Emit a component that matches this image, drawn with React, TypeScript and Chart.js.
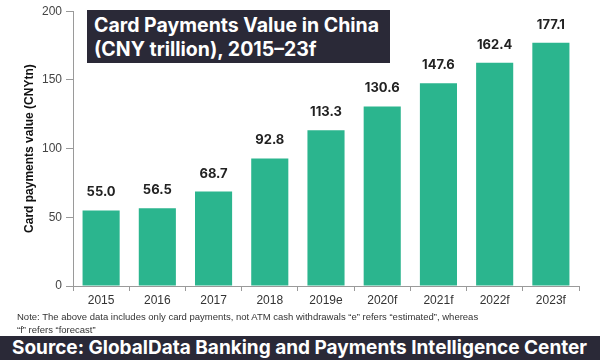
import React, { useEffect, useRef } from "react";
import { Chart, registerables } from "chart.js";

Chart.register(...registerables);

const categories = ["2015", "2016", "2017", "2018", "2019e", "2020f", "2021f", "2022f", "2023f"];
const values = [55.0, 56.5, 68.7, 92.8, 113.3, 130.6, 147.6, 162.4, 177.1];
const yTicks = [0, 50, 100, 150, 200];
const titleLines = ["Card Payments Value in China", "(CNY trillion), 2015\u201323f"];
const yAxisTitle = "Card payments value (CNYtn)";
const noteText = "Note: The above data includes only card payments, not ATM cash withdrawals \u201ce\u201d refers \u201cestimated\u201d, whereas \u201cf\u201d refers \u201cforecast\u201d";
const sourceText = "Source: GlobalData Banking and Payments Intelligence Center";

const BAR = "#2bb58e";
const DARK = "#2a2937";
const AX = "'Liberation Sans', Arial, sans-serif";

const labelPlugin = {
  id: "barLabels",
  afterDatasetsDraw(chart: any) {
    const ctx = chart.ctx;
    const meta = chart.getDatasetMeta(0);
    ctx.save();
    ctx.font = "bold 13px Inter, 'Noto Sans', sans-serif";
    ctx.fillStyle = "#222";
    ctx.textAlign = "center";
    ctx.textBaseline = "middle";
    meta.data.forEach((el: any, i: number) => {
      ctx.fillText(values[i].toFixed(1), el.x, el.y - 18);
    });
    ctx.restore();
  },
};

export default function App() {
  const ref = useRef<HTMLCanvasElement>(null);
  useEffect(() => {
    document.body.style.margin = "0";
    const chart = new Chart(ref.current!, {
      type: "bar",
      data: {
        labels: categories,
        datasets: [
          {
            data: values,
            backgroundColor: BAR,
            barPercentage: 0.66,
            categoryPercentage: 1,
          },
        ],
      },
      options: {
        animation: false,
        responsive: false,
        maintainAspectRatio: false,
        layout: { padding: { top: 9, right: 21, bottom: 54, left: 22 } },
        plugins: { legend: { display: false }, tooltip: { enabled: false } },
        scales: {
          x: {
            grid: { display: true, offset: true, drawOnChartArea: false, drawTicks: true, tickLength: 5, color: "#9a9a9a" },
            border: { color: "#9a9a9a" },
            ticks: {
              color: "#333",
              font: { family: AX, size: 12 },
              padding: 2,
              maxRotation: 0,
            },
            afterFit: (s: any) => {
              s.height = 20;
            },
          },
          y: {
            min: 0,
            max: 200,
            afterBuildTicks: (s: any) => {
              s.ticks = yTicks.map((v) => ({ value: v }));
            },
            grid: { display: true, drawOnChartArea: false, drawTicks: true, tickLength: 7, color: "#9a9a9a" },
            border: { color: "#9a9a9a" },
            ticks: {
              color: "#444",
              font: { family: AX, size: 12 },
              padding: 4,
            },
            title: {
              display: true,
              text: yAxisTitle,
              color: "#111",
              font: { family: AX, size: 12, weight: "bold" },
              padding: { top: 0, bottom: 4 },
            },
            afterFit: (s: any) => {
              s.width = 51;
            },
          },
        },
      },
      plugins: [labelPlugin],
    });
    return () => chart.destroy();
  }, []);

  return (
    <div style={{ position: "relative", width: 600, height: 360, overflow: "hidden", background: "#fff", fontFamily: "Inter, 'Noto Sans', sans-serif" }}>
      <canvas ref={ref} width={600} height={360} style={{ position: "absolute", left: 0, top: 0 }} />
      <div
        style={{
          position: "absolute",
          left: 87,
          top: 10,
          width: 303,
          height: 53,
          background: DARK,
          color: "#fff",
          fontWeight: 700,
          fontSize: 19.5,
          lineHeight: "24px",
          padding: "3px 0 0 7px",
          boxSizing: "border-box",
          whiteSpace: "nowrap",
        }}
      >
        {titleLines.map((t, i) => (
          <div key={i}>{t}</div>
        ))}
      </div>
      <div
        style={{
          position: "absolute",
          left: 17,
          top: 310,
          width: 462,
          fontFamily: AX,
          fontSize: 9.5,
          lineHeight: "13px",
          color: "#333",
        }}
      >
        {noteText}
      </div>
      <div
        style={{
          position: "absolute",
          left: 0,
          top: 336,
          width: 600,
          height: 24,
          background: DARK,
          color: "#fff",
          fontWeight: 700,
          fontSize: 19,
          lineHeight: "24px",
          paddingLeft: 12,
          boxSizing: "border-box",
          whiteSpace: "nowrap",
        }}
      >
        {sourceText}
      </div>
    </div>
  );
}
